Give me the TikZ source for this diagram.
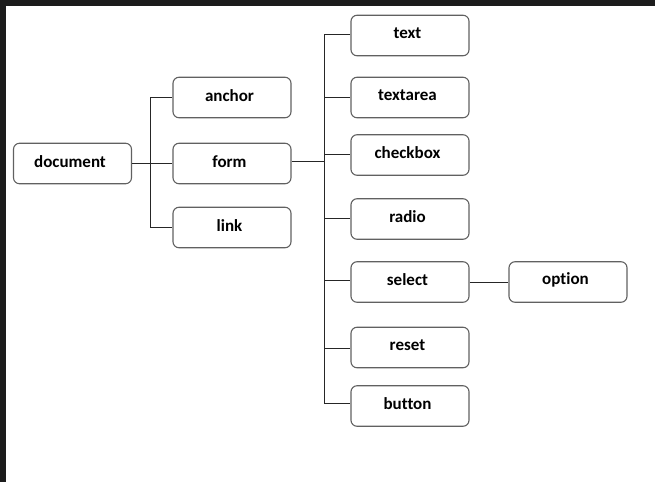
\documentclass[tikz,border=0pt]{standalone}
\usepackage{fontspec}
\setmainfont[Ligatures=NoCommon]{Carlito}
\begin{document}
\begin{tikzpicture}[x=1pt,y=-1pt,
  box/.style={draw=black!62, line width=1.1pt, rounded corners=6pt, minimum width=118pt, minimum height=40.5pt, inner sep=0pt, fill=white},
  lbl/.style={font=\bfseries\fontsize{17}{20}\selectfont, inner sep=0pt, xshift=-2.5pt, yshift=2pt},
  conn/.style={draw=black!85, line width=0.9pt}]
\useasboundingbox (0,0) rectangle (655,482);
\fill[white] (0,0) rectangle (655,482);
\fill[black!89] (0,0) rectangle (655,6);
\fill[black!89] (0,0) rectangle (6,482);
% nodes
\foreach \n/\x/\y in {document/72.5/163.5, anchor/232/97.5, form/232/163.5, link/232/227.5,
  text/410/35.5, textarea/410/97.5, checkbox/410/155, radio/410/219, select/410/282,
  reset/410/347.5, button/410/406, option/568/282}
{
  \node[box] (\n) at (\x,\y) {};
  \node[lbl] (\n-label) at (\n.center) {\n};
}
% bus coordinates
\coordinate (b1) at (150,0);
\coordinate (b2) at (324,0);
% connectors level 1
\draw[conn] (document.east) -- (form.west);
\draw[conn] (anchor.west) -- (anchor.west -| b1) -- (link.west -| b1) -- (link.west);
% connectors level 2
\draw[conn] ([yshift=2.5pt]form.east) -- ([yshift=2.5pt]form.east -| b2);
\draw[conn] ([yshift=1pt]text.west) -- ([yshift=1pt]text.west -| b2) -- ([yshift=3pt]button.west -| b2) -- ([yshift=3pt]button.west);
\foreach \n/\d in {textarea/0.5,checkbox/1,radio/0.5,select/2,reset/-0.5}
  \draw[conn] ([yshift=\d pt]\n.west -| b2) -- ([yshift=\d pt]\n.west);
\draw[conn] (select.east) -- (option.west);
\end{tikzpicture}
\end{document}
